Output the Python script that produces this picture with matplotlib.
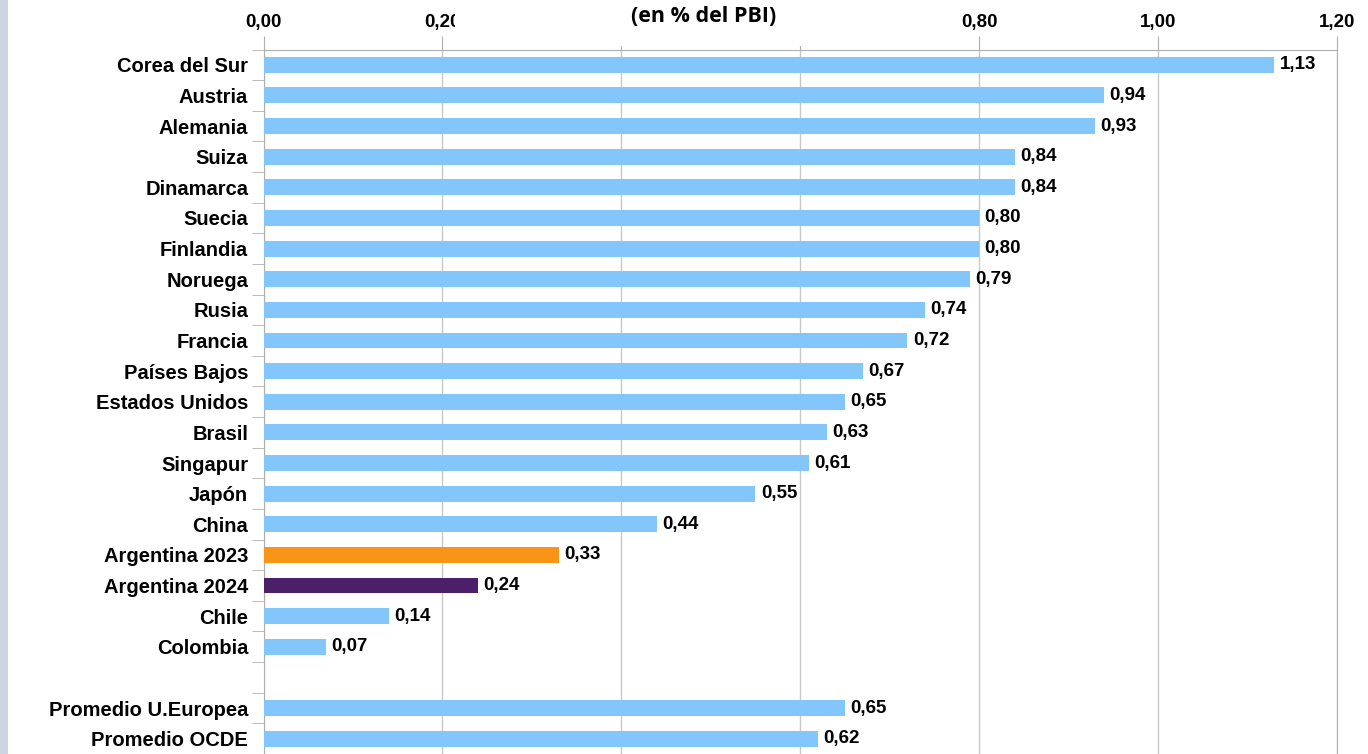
import numpy as np
import matplotlib.pyplot as plt
from matplotlib.patches import Rectangle

# datos (en % del PBI)
paises = ['Corea del Sur', 'Austria', 'Alemania', 'Suiza', 'Dinamarca', 'Suecia',
          'Finlandia', 'Noruega', 'Rusia', 'Francia', 'Países Bajos', 'Estados Unidos',
          'Brasil', 'Singapur', 'Japón', 'China', 'Argentina 2023', 'Argentina 2024',
          'Chile', 'Colombia', '', 'Promedio U.Europea', 'Promedio OCDE']
valores = [1.13, 0.94, 0.93, 0.84, 0.84, 0.80, 0.80, 0.79, 0.74, 0.72, 0.67, 0.65,
           0.63, 0.61, 0.55, 0.44, 0.33, 0.24, 0.14, 0.07, None, 0.65, 0.62]
ticks_x = [0.0, 0.2, 0.4, 0.6, 0.8, 1.0, 1.2]
# etiquetas tapadas por el titulo en el original
tick_labels = ['0,00', '0,20', '', '', '0,80', '1,00', '1,20']

azul = '#82C6FB'
colores = {'Argentina 2023': '#FA9416', 'Argentina 2024': '#4C1F69'}

W, H = 1368, 754
fig = plt.figure(figsize=(W / 100, H / 100), dpi=100)
fig.patch.set_facecolor('white')

# franja gris a la izquierda
fig.patches.append(Rectangle((0, 0), 8 / W, 1, transform=fig.transFigure,
                             facecolor='#CED4E4', edgecolor='none', zorder=0))

slot = 30.95
top_px = 49.5
left_px, right_px = 263.5, 1336.8
ax = fig.add_axes([left_px / W, 0, (right_px - left_px) / W, (H - top_px) / H])

y = np.arange(len(paises))
for i, (p, v) in enumerate(zip(paises, valores)):
    if v is None:
        continue
    ax.barh(i, v, height=0.52, color=colores.get(p, azul), zorder=3)
    ax.text(v + 0.006, i, f'{v:.2f}'.replace('.', ','), va='center', ha='left',
            fontsize=13.5, fontweight='bold', family='Liberation Sans', zorder=4)

ax.set_xlim(0, 1.2)
ax.set_ylim(-0.5 + (H - top_px) / slot, -0.5)

ax.xaxis.tick_top()
ax.set_xticks(ticks_x)
ax.set_xticklabels(tick_labels, fontsize=13.5, fontweight='bold', family='Liberation Sans')
ax.tick_params(axis='x', length=10, color='#B0B0B0', pad=3)
ax.grid(axis='x', color='#C8C8C8', linewidth=1, zorder=0)

ax.set_yticks(y)
ax.set_yticklabels(paises, fontsize=14.5, fontweight='bold', family='Liberation Sans')
ax.set_yticks(np.arange(-0.5, len(paises), 1), minor=True)
ax.tick_params(axis='y', which='major', length=0, pad=11)
ax.tick_params(axis='y', which='minor', length=9, color='#B0B0B0')

for s in ['top', 'left', 'right']:
    ax.spines[s].set_color('#B0B0B0')
ax.spines['bottom'].set_visible(False)

# caja del titulo que tapa parte de los ticks
fig.patches.append(Rectangle((455 / W, (H - 46) / H), 500 / W, 46 / H,
                             transform=fig.transFigure, facecolor='white',
                             edgecolor='none', zorder=5))
fig.text(704 / W, 1 - 17 / H, '(en % del PBI)', ha='center', va='center',
         fontsize=15.5, fontweight='bold', family='Open Sans', zorder=6)

fig.savefig('out.png', dpi=100)
